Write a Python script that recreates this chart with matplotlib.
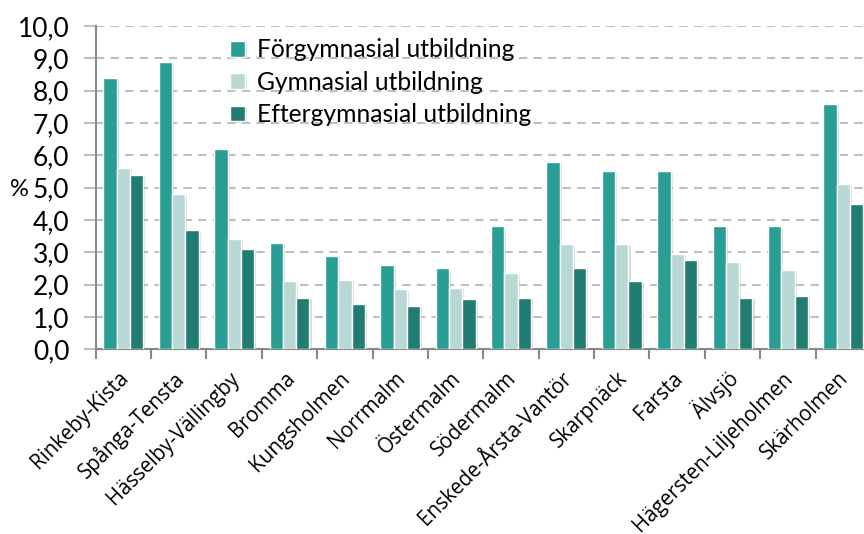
import matplotlib
matplotlib.use('Agg')
import matplotlib.pyplot as plt
import matplotlib.patheffects as pe
import numpy as np

### Data
districts = ["Rinkeby-Kista", "Spånga-Tensta", "Hässelby-Vällingby", "Bromma",
             "Kungsholmen", "Norrmalm", "Östermalm", "Södermalm",
             "Enskede-Årsta-Vantör", "Skarpnäck", "Farsta", "Älvsjö",
             "Hägersten-Liljeholmen", "Skärholmen"]
forgymnasial = [8.4, 8.9, 6.2, 3.3, 2.9, 2.6, 2.5, 3.8, 5.8, 5.5, 5.5, 3.8, 3.8, 7.6]
gymnasial = [5.6, 4.8, 3.4, 2.1, 2.15, 1.85, 1.9, 2.35, 3.25, 3.25, 2.95, 2.7, 2.45, 5.1]
eftergymnasial = [5.4, 3.7, 3.1, 1.6, 1.4, 1.35, 1.55, 1.6, 2.5, 2.1, 2.75, 1.6, 1.65, 4.5]
series_names = ["Förgymnasial utbildning", "Gymnasial utbildning", "Eftergymnasial utbildning"]
###

colors = ["#289E94", "#B8D8D5", "#217C72"]
plt.rcParams['font.family'] = ['Lato', 'DejaVu Sans']

fig = plt.figure(figsize=(8.64, 5.34), dpi=100)
ax = fig.add_axes([95.7 / 864, (534 - 349.3) / 534, (871 - 95.7) / 864, (349.3 - 26) / 534])

x = np.arange(len(districts))
width = 0.24
shadow = [pe.SimplePatchShadow(offset=(1.5, -1), shadow_rgbFace='#999999', alpha=0.35), pe.Normal()]
for i, vals in enumerate([forgymnasial, gymnasial, eftergymnasial]):
    bars = ax.bar(x + (i - 1) * width, vals, width, color=colors[i], edgecolor='white',
                  linewidth=1.0, label=series_names[i], zorder=3)
    for b in bars:
        b.set_path_effects(shadow)

ax.set_xlim(-0.5, len(districts) - 0.5)
ax.set_ylim(0, 10)
ax.set_yticks(np.arange(0, 11, 1))
ax.set_yticklabels([("%.1f" % v).replace('.', ',') for v in range(0, 11)], fontsize=19)
ax.yaxis.grid(True, linestyle=(0, (4, 3)), color='#BFBFBF', linewidth=1.5, zorder=0)
ax.set_axisbelow(True)

# category labels, rotated, drawn below the axis
ax.set_xticks(np.arange(-0.5, len(districts), 1))
ax.set_xticklabels([])
for xi, name in zip(x, districts):
    ax.annotate(name, xy=(xi, 0), xycoords=('data', 'axes fraction'),
                xytext=(2, -26), textcoords='offset pixels', rotation=45,
                ha='right', va='center', rotation_mode='anchor', fontsize=14.8,
                family=['Open Sans', 'DejaVu Sans'], annotation_clip=False)
ax.tick_params(axis='x', length=7, width=1.5, color='#888888')
ax.tick_params(axis='y', length=9, width=1.5, color='#BFBFBF', pad=10)

for s in ['top', 'right']:
    ax.spines[s].set_visible(False)
for s in ['left', 'bottom']:
    ax.spines[s].set_color('#888888')
    ax.spines[s].set_linewidth(1.5)

fig.text(19 / 864, 1 - 190 / 534, "%", fontsize=17, ha='center', va='center')

leg = ax.legend(loc='upper left', bbox_to_anchor=(0.145, 1.03), frameon=False, fontsize=17.7,
                handlelength=0.6, handleheight=0.6, handletextpad=0.5, labelspacing=0.38)

plt.savefig("out.png", dpi=100)
